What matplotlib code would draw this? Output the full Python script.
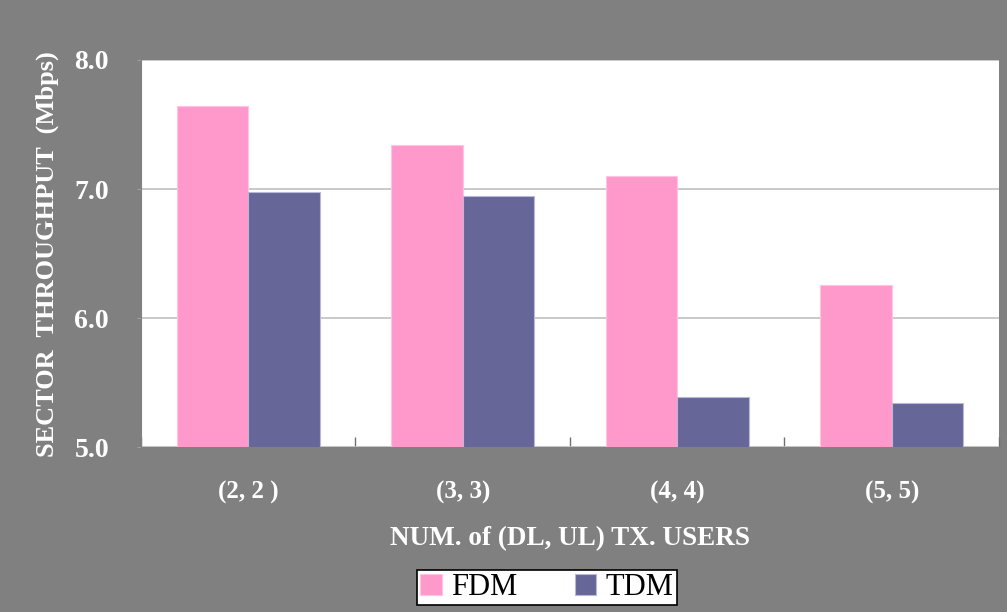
import numpy as np
import matplotlib.pyplot as plt

# Sector throughput per scheme, by number of (DL, UL) users
users = ["(2, 2 )", "(3, 3)", "(4, 4)", "(5, 5)"]
fdm = [7.64, 7.34, 7.10, 6.26]
tdm = [6.98, 6.95, 5.39, 5.34]

plt.rcParams["font.family"] = ["Liberation Serif", "DejaVu Serif"]

fig = plt.figure(figsize=(10.07, 6.12), dpi=100, facecolor="#808080")
ax = fig.add_axes([0.140, 0.269, 0.852, 0.633])
ax.set_facecolor("white")

x = np.arange(len(users))
w = 1 / 3
ax.bar(x - w / 2, fdm, w, color="#FF99CC", edgecolor="#FFC4E2",
       linewidth=0.8, label="FDM", zorder=3)
ax.bar(x + w / 2, tdm, w, color="#666699", edgecolor="#B8B8D8",
       linewidth=0.8, label="TDM", zorder=3)

ax.set_ylim(5.0, 8.0)
ax.set_xlim(-0.5, len(users) - 0.5)
ax.set_yticks([5.0, 6.0, 7.0, 8.0])
ax.set_yticklabels(["5.0", "6.0", "7.0", "8.0"])
ax.yaxis.grid(True, color="#C0C0C0", linewidth=1.2, zorder=0)

# category labels without tick marks, boundary ticks pointing inward
ax.set_xticks(x)
ax.set_xticklabels(users)
ax.tick_params(axis="x", length=0, pad=24, labelsize=18, labelcolor="white")
ax.set_xticks(np.arange(len(users) + 1) - 0.5, minor=True)
ax.tick_params(axis="x", which="minor", direction="in", length=7,
               color="#707070", width=1)
ax.tick_params(axis="y", length=3, direction="out", color="#A0A0A0",
               labelsize=20, labelcolor="white", pad=20)
for lbl in ax.get_xticklabels() + ax.get_yticklabels():
    lbl.set_fontweight("bold")

for side in ["top", "right"]:
    ax.spines[side].set_visible(False)
ax.spines["left"].set_color("#808080")
ax.spines["bottom"].set_color("#808080")

ax.set_xlabel("NUM. of (DL, UL) TX. USERS", color="white", fontsize=19.5,
              fontweight="bold", labelpad=16)
ax.set_ylabel("SECTOR  THROUGHPUT  (Mbps)", color="white", fontsize=19,
              fontweight="bold", labelpad=11)

leg = fig.legend(loc="center", bbox_to_anchor=(0.543, 0.040), ncol=2,
                 fontsize=22, frameon=True, fancybox=False, framealpha=1,
                 facecolor="white", handlelength=0.7, handleheight=0.7,
                 handletextpad=0.3, columnspacing=1.9, borderpad=0.1,
                 borderaxespad=0)
leg.get_frame().set_edgecolor("black")
leg.get_frame().set_linewidth(1.2)

fig.savefig("out.png", dpi=100, facecolor=fig.get_facecolor())
